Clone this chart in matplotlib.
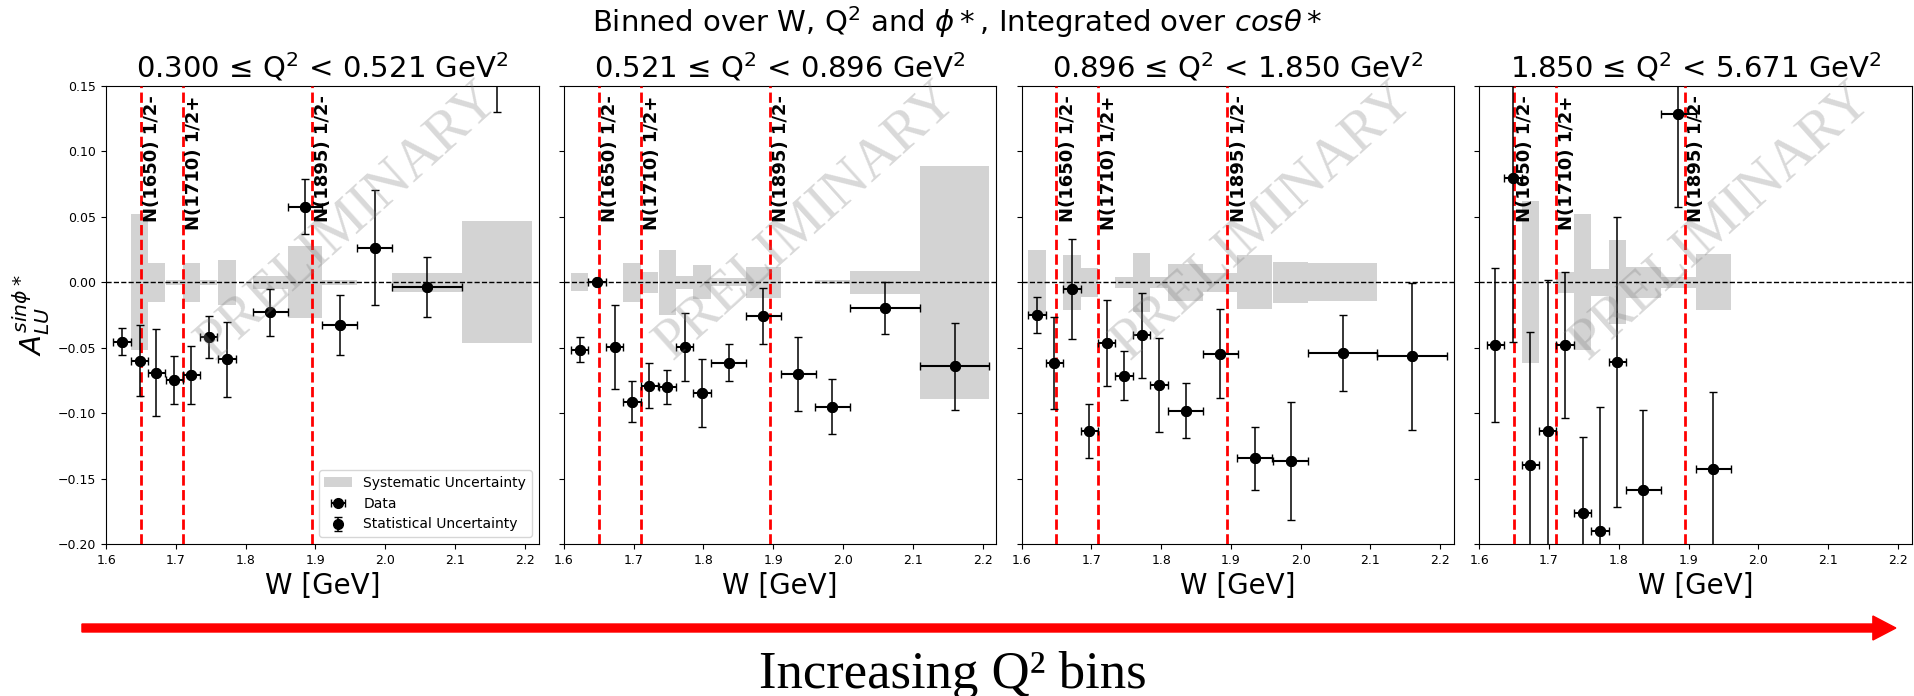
import matplotlib.pyplot as plt
import matplotlib.patches as mpatches
import numpy as np

q2_titles = [r"0.300 ≤ Q$^2$ < 0.521 GeV$^2$",
             r"0.521 ≤ Q$^2$ < 0.896 GeV$^2$",
             r"0.896 ≤ Q$^2$ < 1.850 GeV$^2$",
             r"1.850 ≤ Q$^2$ < 5.671 GeV$^2$"]

res_mass = [1.65, 1.71, 1.895]
res_names = ["N(1650) 1/2-", "N(1710) 1/2+", "N(1895) 1/2-"]

# Q2 bin 1
w_1 = [1.623, 1.648, 1.672, 1.698, 1.722, 1.747, 1.773, 1.835, 1.885, 1.935, 1.985, 2.06, 2.16]
dw_1 = [0.0125, 0.0125, 0.0125, 0.0125, 0.0125, 0.0125, 0.0125, 0.025, 0.025, 0.025, 0.025, 0.05, 0.05]
a_1 = [-0.0454, -0.060, -0.069, -0.0747, -0.071, -0.042, -0.059, -0.023, 0.0579, -0.0324, 0.0265, -0.0038, 0.20]
da_1 = [0.0105, 0.027, 0.033, 0.018, 0.022, 0.016, 0.029, 0.018, 0.021, 0.023, 0.044, 0.023, 0.07]
sys_1 = [0.0, 0.052, 0.015, 0.002, 0.015, 0.002, 0.0173, 0.005, 0.0275, 0.002, 0.0, 0.0073, 0.0466]

# Q2 bin 2
w_2 = [1.6225, 1.6474, 1.6727, 1.6976, 1.7225, 1.7483, 1.7732, 1.798, 1.836, 1.8857, 1.9359, 1.985, 2.06, 2.16]
dw_2 = [0.0125, 0.0125, 0.0125, 0.0125, 0.0125, 0.0125, 0.0125, 0.0125, 0.025, 0.025, 0.025, 0.025, 0.05, 0.05]
a_2 = [-0.0514, 0.0, -0.0494, -0.0913, -0.0789, -0.0802, -0.0494, -0.0847, -0.0613, -0.0257, -0.070, -0.0952, -0.0198, -0.0641]
da_2 = [0.0095, 0.001, 0.032, 0.0157, 0.017, 0.013, 0.026, 0.0257, 0.014, 0.0215, 0.0285, 0.021, 0.020, 0.0333]
sys_2 = [0.007, 0.0, 0.0, 0.015, 0.008, 0.025, 0.005, 0.013, 0.003, 0.012, 0.0, 0.0015, 0.009, 0.089]

# Q2 bin 3
w_3 = [1.622, 1.647, 1.672, 1.697, 1.722, 1.747, 1.772, 1.797, 1.835, 1.885, 1.934, 1.986, 2.06, 2.16]
dw_3 = [0.0125, 0.0125, 0.0125, 0.0125, 0.0125, 0.0125, 0.0125, 0.0125, 0.025, 0.025, 0.025, 0.025, 0.05, 0.05]
a_3 = [-0.0249, -0.0618, -0.0051, -0.1135, -0.0466, -0.0715, -0.0405, -0.0786, -0.098, -0.0547, -0.1344, -0.1364, -0.054, -0.0567]
da_3 = [0.014, 0.035, 0.038, 0.0206, 0.033, 0.0187, 0.0323, 0.0358, 0.021, 0.034, 0.024, 0.045, 0.029, 0.0565]
sys_3 = [0.025, 0.0, 0.021, 0.011, 0.0, 0.004, 0.0225, 0.004, 0.0143, 0.0073, 0.0205, 0.0157, 0.0145, 0.0]

# Q2 bin 4
w_4 = [1.623, 1.648, 1.673, 1.698, 1.723, 1.748, 1.773, 1.798, 1.835, 1.885, 1.935]
dw_4 = [0.0125, 0.0125, 0.0125, 0.0125, 0.0125, 0.0125, 0.0125, 0.0125, 0.025, 0.025, 0.025]
a_4 = [-0.0478, 0.080, -0.140, -0.1135, -0.0478, -0.176, -0.190, -0.061, -0.1585, 0.1285, -0.143]
da_4 = [0.059, 0.126, 0.102, 0.115, 0.0556, 0.058, 0.095, 0.111, 0.061, 0.071, 0.059]
sys_4 = [0.0, 0.0, 0.062, 0.0, 0.008, 0.052, 0.0105, 0.032, 0.0117, 0.0042, 0.0213]

bins = [(w_1, dw_1, a_1, da_1, sys_1),
        (w_2, dw_2, a_2, da_2, sys_2),
        (w_3, dw_3, a_3, da_3, sys_3),
        (w_4, dw_4, a_4, da_4, sys_4)]

fig, axs = plt.subplots(1, 4, figsize=(19.15, 6.96), dpi=100, sharey=True)
fig.subplots_adjust(left=0.0554, right=0.9984, bottom=0.2184, top=0.8764, wspace=0.058)

for i, ax in enumerate(axs):
    w, dw, a, da, sy = [np.array(v) for v in bins[i]]
    ax.bar(w, 2 * sy, width=2 * dw, bottom=-sy, color="lightgray", label="Systematic Uncertainty", zorder=1)
    ax.errorbar(w, a, xerr=dw, fmt="o", color="k", markersize=7, elinewidth=1.5, capsize=3, label="Data", zorder=4)
    ax.errorbar(w, a, yerr=da, fmt="o", color="k", markersize=7, elinewidth=1.1, capsize=3,
                label="Statistical Uncertainty", zorder=4)
    ax.axhline(0, color="k", linestyle="--", linewidth=1, zorder=2)
    for m, name in zip(res_mass, res_names):
        ax.axvline(m, color="red", linestyle="--", linewidth=2, zorder=3)
        ax.text(m + 0.003, 0.143, name, rotation=90, ha="left", va="top", fontsize=13, fontweight="bold", zorder=5)
    # watermark
    ax.text(0.56, 0.705, "PRELIMINARY", transform=ax.transAxes, rotation=42, ha="center", va="center",
            fontsize=41, family="Liberation Serif", color="gray", alpha=0.3, zorder=6)
    ax.set_xlim(1.6, 2.22)
    ax.set_ylim(-0.2, 0.15)
    ax.set_title(q2_titles[i], fontsize=21)
    ax.set_xlabel("W [GeV]", fontsize=20)
    ax.tick_params(labelsize=9)

axs[0].set_ylabel(r"$A_{LU}^{sin\phi*}$", fontsize=21)
axs[0].legend(loc="lower right", fontsize=10)

fig.text(0.5, 0.968, r"Binned over W, Q$^2$ and $\phi*$, Integrated over $cos\theta*$",
         ha="center", va="center", fontsize=21)

arrow = mpatches.FancyArrow(0.0428, 0.0977, 0.9472, 0, width=0.0115, head_width=0.0345, head_length=0.012,
                            length_includes_head=True, color="red", transform=fig.transFigure)
fig.patches.append(arrow)
fig.text(0.4976, 0.0115, "Increasing Q² bins", ha="center", va="baseline", fontsize=38, family="Liberation Serif")

fig.savefig("out.png")
